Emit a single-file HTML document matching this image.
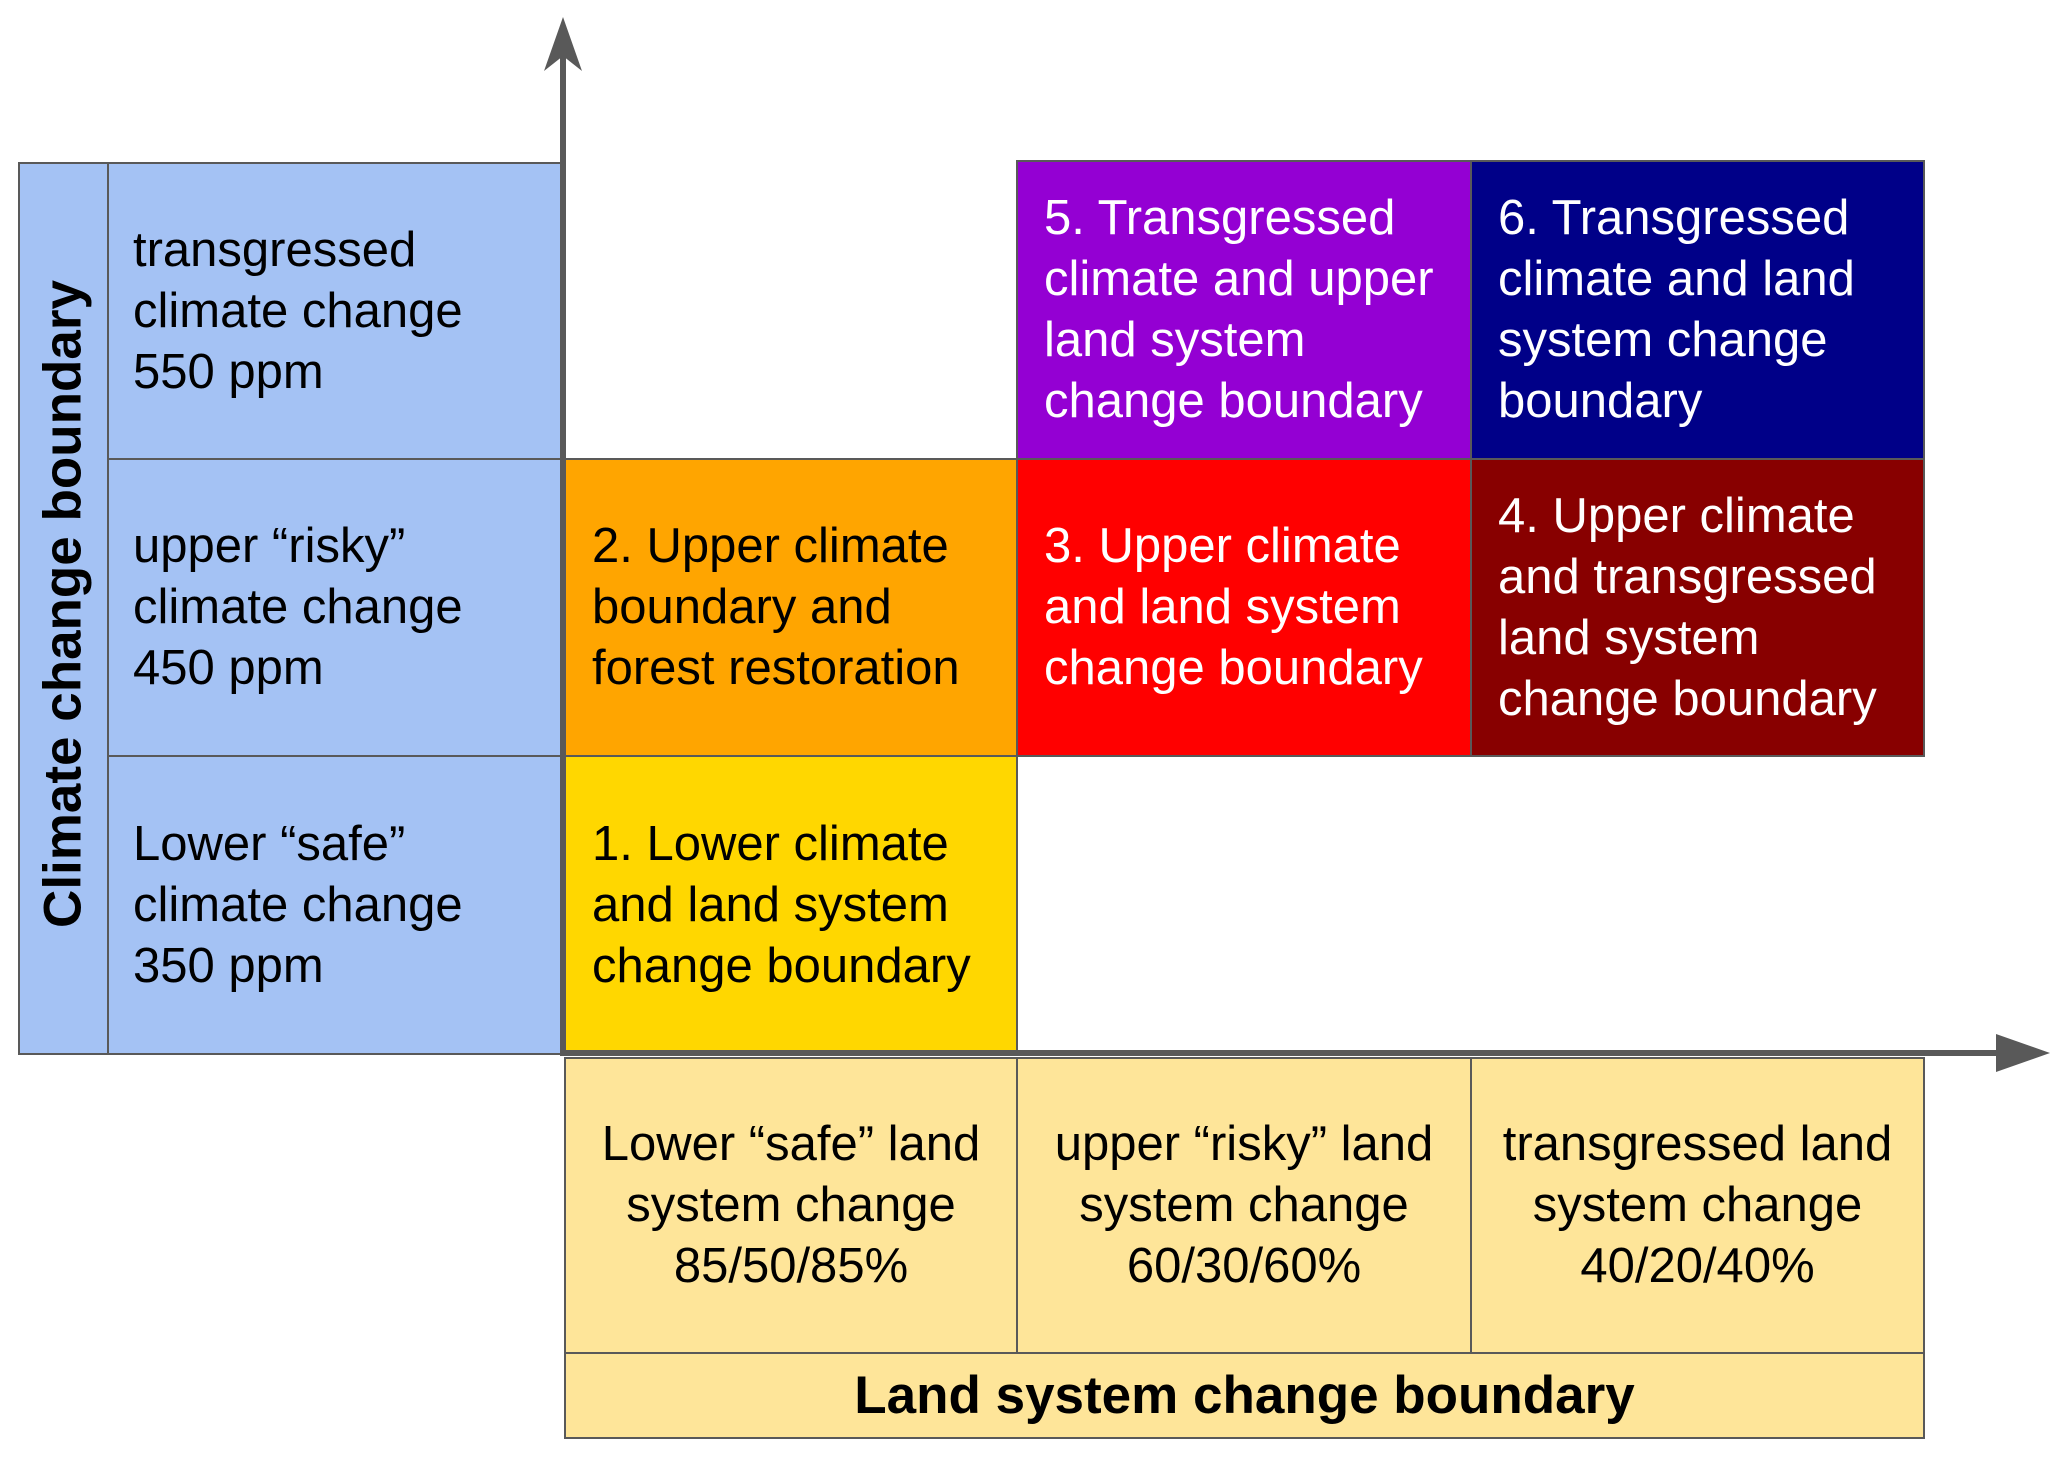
<!DOCTYPE html>
<html><head><meta charset="utf-8"><style>
html,body{margin:0;padding:0;background:#fff;}
body{width:2067px;height:1458px;position:relative;overflow:hidden;font-family:"Liberation Sans",Arial,sans-serif;}
.c{position:absolute;box-sizing:border-box;border:2px solid #595959;display:flex;align-items:center;font-size:49px;line-height:61px;}
.l{padding-left:26px;}
.lb{padding-left:24px;}
.m{justify-content:center;text-align:center;}
.w{color:#fff;}
</style></head><body>
<div class="c" style="left:18px;top:162px;width:91px;height:893px;background:#a4c2f4;"></div>
<div style="position:absolute;left:63px;top:604px;transform:translate(-50%,-50%) rotate(-90deg);font-weight:bold;font-size:53px;white-space:nowrap;">Climate change boundary</div>
<div class="c lb" style="left:107px;top:162px;width:457px;height:298px;background:#a4c2f4;">transgressed<br>climate change<br>550 ppm</div>
<div class="c lb" style="left:107px;top:458px;width:457px;height:299px;background:#a4c2f4;">upper “risky”<br>climate change<br>450 ppm</div>
<div class="c lb" style="left:107px;top:755px;width:457px;height:300px;background:#a4c2f4;">Lower “safe”<br>climate change<br>350 ppm</div>
<div class="c l w" style="left:1016px;top:160px;width:456px;height:300px;background:#9400d3;">5. Transgressed<br>climate and upper<br>land system<br>change boundary</div>
<div class="c l w" style="left:1470px;top:160px;width:455px;height:300px;background:#000088;">6. Transgressed<br>climate and land<br>system change<br>boundary</div>
<div class="c l" style="left:564px;top:458px;width:454px;height:299px;background:#ffa500;">2. Upper climate<br>boundary and<br>forest restoration</div>
<div class="c l w" style="left:1016px;top:458px;width:456px;height:299px;background:#ff0000;">3. Upper climate<br>and land system<br>change boundary</div>
<div class="c l w" style="left:1470px;top:458px;width:455px;height:299px;background:#880000;">4. Upper climate<br>and transgressed<br>land system<br>change boundary</div>
<div class="c l" style="left:564px;top:755px;width:454px;height:300px;background:#ffd700;">1. Lower climate<br>and land system<br>change boundary</div>
<div class="c m" style="left:564px;top:1057px;width:454px;height:297px;background:#fee599;">Lower “safe” land<br>system change<br>85/50/85%</div>
<div class="c m" style="left:1016px;top:1057px;width:456px;height:297px;background:#fee599;">upper “risky” land<br>system change<br>60/30/60%</div>
<div class="c m" style="left:1470px;top:1057px;width:455px;height:297px;background:#fee599;">transgressed land<br>system change<br>40/20/40%</div>
<div class="c m" style="left:564px;top:1352px;width:1361px;height:87px;background:#fee599;font-weight:bold;font-size:53px;">Land system change boundary</div>
<svg style="position:absolute;left:0;top:0" width="2067" height="1458">
<line x1="563" y1="1056" x2="563" y2="50" stroke="#595959" stroke-width="6"/>
<polygon points="563,17 544,71 563,56 582,71" fill="#595959"/>
<line x1="560" y1="1053" x2="2010" y2="1053" stroke="#595959" stroke-width="6"/>
<polygon points="2050,1053 1996,1034 1996,1072" fill="#595959"/>
</svg>
</body></html>
